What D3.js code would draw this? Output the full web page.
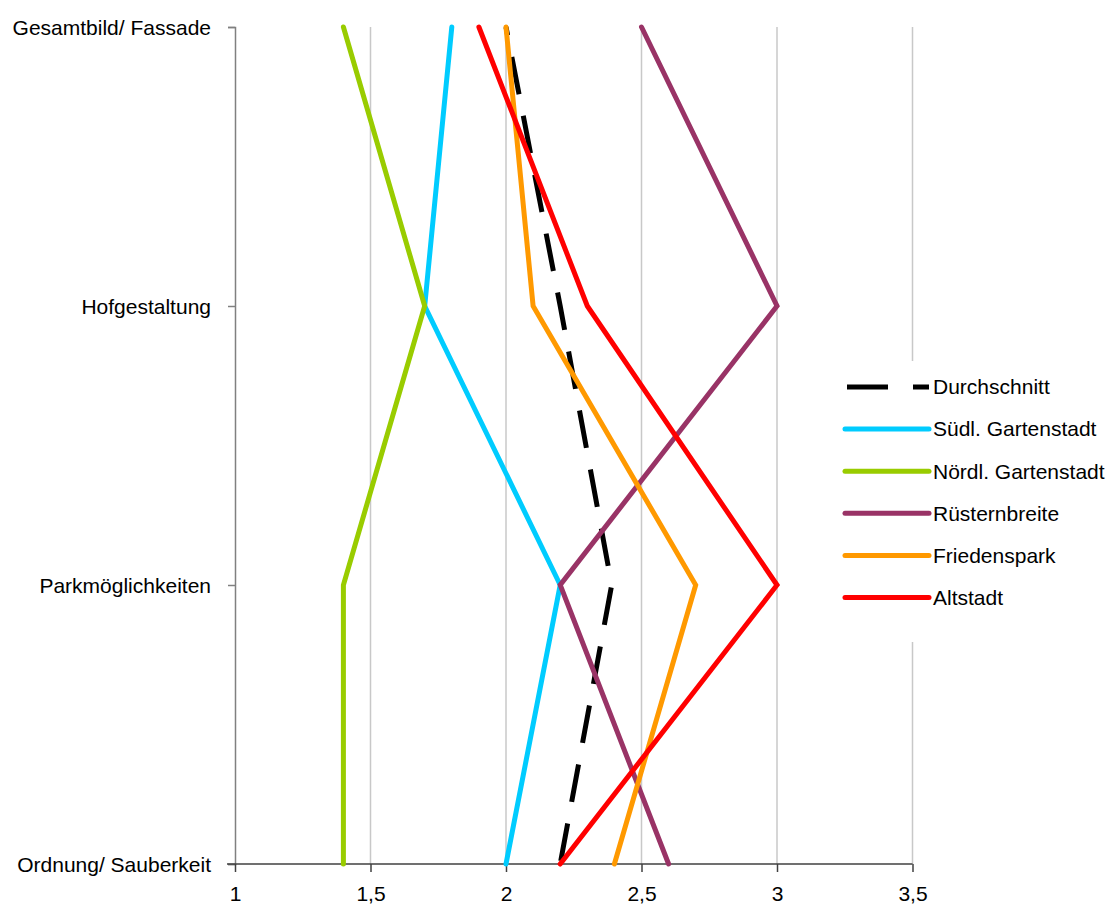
<!DOCTYPE html>
<html>
<head>
<meta charset="utf-8">
<script src="https://cdn.jsdelivr.net/npm/d3@7"></script>
<style>
  html, body { margin: 0; padding: 0; background: #fff; }
  svg { display: block; }
  text { font-family: "Liberation Sans", Arial, sans-serif; fill: #000; }
</style>
</head>
<body>
<svg id="chart" width="1109" height="915"></svg>
<script>
const categories = ["Gesamtbild/ Fassade", "Hofgestaltung", "Parkmöglichkeiten", "Ordnung/ Sauberkeit"];
const xTicks = [1, 1.5, 2, 2.5, 3, 3.5];
const seriesNames = ["Durchschnitt", "Südl. Gartenstadt", "Nördl. Gartenstadt", "Rüsternbreite", "Friedenspark", "Altstadt"];
const durchschnitt = [2.0, 2.2, 2.39, 2.2];
const suedlGartenstadt = [1.8, 1.7, 2.2, 2.0];
const noerdlGartenstadt = [1.4, 1.7, 1.4, 1.4];
const ruesternbreite = [2.5, 3.0, 2.2, 2.6];
const friedenspark = [2.0, 2.1, 2.7, 2.4];
const altstadt = [1.9, 2.3, 3.0, 2.2];
const seriesColors = ["#000000", "#00CCFF", "#99CC00", "#993366", "#FF9900", "#FF0000"];

const seriesValues = [durchschnitt, suedlGartenstadt, noerdlGartenstadt, ruesternbreite, friedenspark, altstadt];
const series = seriesNames.map((name, i) => ({
  name, color: seriesColors[i], dashed: i === 0,
  points: categories.map((c, j) => ({ cat: c, v: seriesValues[i][j] }))
}));

const svg = d3.select("#chart");
const x = d3.scaleLinear().domain([1, 3.5]).range([235, 912.5]);
const y = d3.scalePoint().domain(categories).range([27, 864]);

// gridlines
svg.append("g").selectAll("line")
  .data(xTicks.slice(1))
  .join("line")
  .attr("x1", d => x(d)).attr("x2", d => x(d))
  .attr("y1", y(categories[0])).attr("y2", y(categories[categories.length - 1]))
  .attr("stroke", "#c8c8c8").attr("stroke-width", 1.5);

// y axis
const yAxis = d3.axisLeft(y).tickSize(7).tickPadding(17);
const gy = svg.append("g").attr("transform", `translate(${x(1)},0)`).call(yAxis);
gy.select(".domain").attr("stroke", "#808080").attr("stroke-width", 1.5);
gy.selectAll(".tick line").attr("stroke", "#808080").attr("stroke-width", 1.5);
gy.selectAll(".tick text").style("font-size", "21px").attr("dy", "0.35em");

// x axis
const xAxis = d3.axisBottom(x).tickValues(xTicks).tickSize(8).tickPadding(14)
  .tickFormat(d => String(d).replace(".", ","));
const gx = svg.append("g").attr("transform", `translate(0,${y(categories[categories.length - 1])})`).call(xAxis);
gx.select(".domain").attr("d", `M${x(1) - 8},0H${x(3.5)}`).attr("stroke", "#404040").attr("stroke-width", 1.5);
gx.selectAll(".tick line").attr("stroke", "#404040").attr("stroke-width", 1.5);
gx.selectAll(".tick text").style("font-size", "21px");

// legend background (covers gridline)
const legX = 845, legY0 = 387, legStep = 42.1;
svg.append("rect").attr("x", 830).attr("y", 361).attr("width", 279).attr("height", 281).attr("fill", "#fff");

// lines
const line = d3.line().x(d => x(d.v)).y(d => y(d.cat));
svg.append("g").selectAll("path")
  .data(series)
  .join("path")
  .attr("d", d => line(d.points))
  .attr("fill", "none")
  .attr("stroke", d => d.color)
  .attr("stroke-width", 5)
  .attr("stroke-linejoin", "miter")
  .attr("stroke-linecap", d => d.dashed ? "butt" : "round")
  .attr("stroke-dasharray", d => d.dashed ? "38,22" : null)
  .attr("stroke-dashoffset", d => d.dashed ? 29.5 : null);

// legend
const leg = svg.append("g").selectAll("g").data(series).join("g")
  .attr("transform", (d, i) => `translate(0,${legY0 + i * legStep})`);
leg.append("line")
  .attr("x1", d => d.dashed ? 847 : legX).attr("x2", 929)
  .attr("y1", 0).attr("y2", 0)
  .attr("stroke", d => d.color).attr("stroke-width", 5)
  .attr("stroke-linecap", d => d.dashed ? "butt" : "round")
  .attr("stroke-dasharray", d => d.dashed ? "41,25" : null);
leg.append("text")
  .attr("x", 933).attr("y", 0).attr("dy", "0.35em")
  .style("font-size", "21px")
  .text(d => d.name);
</script>
</body>
</html>
